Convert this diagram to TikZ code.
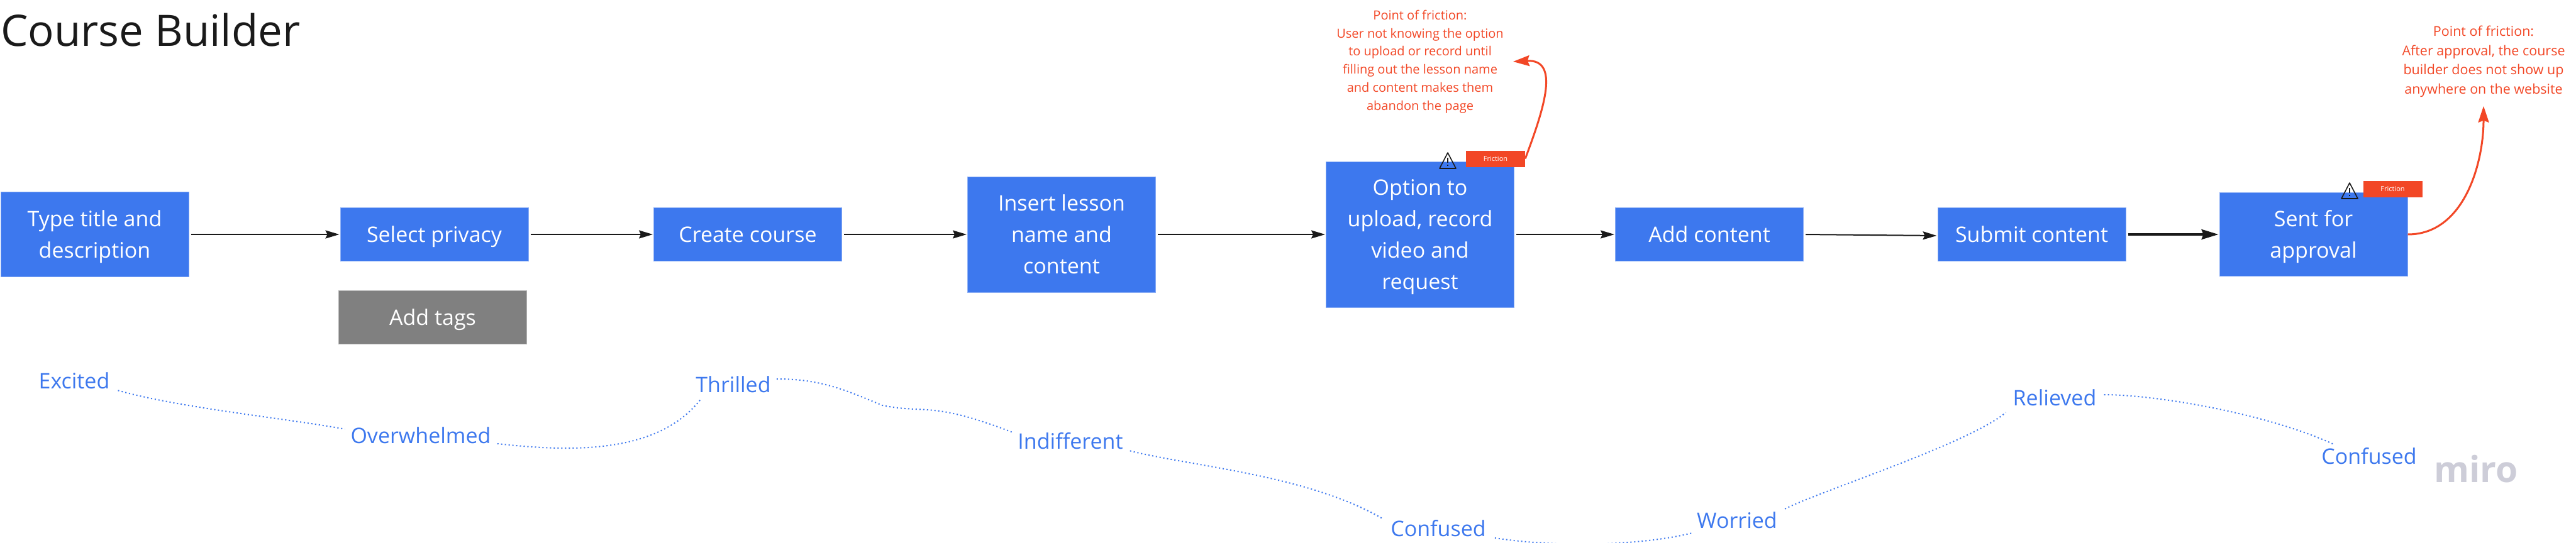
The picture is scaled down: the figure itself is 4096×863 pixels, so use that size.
\documentclass[tikz,border=0pt]{standalone}
\usepackage{fontspec}
\setmainfont{Open Sans}
\usepackage{xcolor}
\usetikzlibrary{arrows.meta, positioning}
\definecolor{flowblue}{HTML}{3D78EE}
\definecolor{flowgray}{HTML}{808080}
\definecolor{flowred}{HTML}{F24726}
\definecolor{flowink}{HTML}{1A1A1A}
\definecolor{miroink}{HTML}{CDCDD8}
\newcommand{\firstrow}{\rule{0pt}{40pt}}

\begin{document}
\begin{tikzpicture}[
    x=1pt, y=-1pt,
    flowbox/.style={rectangle, draw=#1!60!white, line width=1pt, fill=#1, text=white, minimum width=299pt, align=center, inner sep=0pt, font=\fontsize{34}{50}\selectfont, execute at end node=\rule[-15pt]{0pt}{15pt}},
    flowbox/.default=flowblue,
    tagbox/.style={rectangle, fill=flowred, text=white, minimum width=94pt, minimum height=26pt, inner sep=0pt, font=\fontsize{11}{13}\selectfont},
    note/.style={text=flowred, align=center, font=\fontsize{20}{28.7}\selectfont},
    mood/.style={text=flowblue, inner sep=0pt, font=\fontsize{34}{40}\selectfont},
    flowarrow/.style={-{Stealth[length=22pt,width=13pt,inset=3pt]}, draw=flowink, line width=2pt, shorten <=3pt, shorten >=1pt},
    redarrow/.style={-{Stealth[length=26pt,width=17pt,inset=3pt]}, draw=flowred, line width=3pt},
    moodline/.style={draw=flowblue, line width=2pt, dash pattern=on 2pt off 4pt},
    warnsign/.style={draw=flowink, line width=1.6pt, line join=round}
]
\useasboundingbox (0,0) rectangle (4096,863);

% Title
\node[anchor=base west, inner sep=0pt, text=flowink, font=\fontsize{69}{80}\selectfont] (title) at (1,73) {Course Builder};

% Steps
\node[flowbox, minimum height=135pt] (typetitle) at (150.5,373) {\firstrow Type title and\\description};
\node[flowbox, minimum height=85pt] (privacy) at (690.5,373) {\firstrow Select privacy};
\node[flowbox=flowgray, minimum height=85pt] (tags) at (688,504.5) {\firstrow Add tags};
\node[flowbox, minimum height=85pt] (create) at (1189,373) {\firstrow Create course};
\node[flowbox, minimum height=184pt] (lesson) at (1688,373) {\firstrow Insert lesson\\name and\\content};
\node[flowbox, minimum height=232pt] (option) at (2258,373) {\firstrow Option to\\upload, record\\video and\\request};
\node[flowbox, minimum height=85pt] (addcontent) at (2718,373) {\firstrow Add content};
\node[flowbox, minimum height=85pt] (submit) at (3230.5,373) {\firstrow Submit content};
\node[flowbox, minimum height=133pt] (sent) at (3678.5,373) {\firstrow Sent for\\approval};

\draw[flowarrow] (typetitle) -- (privacy);
\draw[flowarrow] (privacy) -- (create);
\draw[flowarrow] (create) -- (lesson);
\draw[flowarrow] (lesson) -- (option);
\draw[flowarrow] (option) -- (addcontent);
\draw[flowarrow] (addcontent.east) -- ([yshift=-2pt]submit.west);
\draw[flowarrow, line width=3.5pt, -{Stealth[length=27pt,width=16pt,inset=3pt]}] (submit) -- (sent);

% Friction tags and notes
\node[tagbox] (tagone) at (2378,252.5) {Friction};
\node[tagbox] (tagtwo) at (3804.5,301) {Friction};
\draw[warnsign] (2302,243) -- (2315,268) -- (2289,268) -- cycle;
\draw[flowink, line width=2pt] (2302,251) -- (2302,259) (2302,262) -- (2302,264);
\draw[warnsign] (3736,291) -- (3749,316) -- (3723,316) -- cycle;
\draw[flowink, line width=2pt] (3736,299) -- (3736,307) (3736,310) -- (3736,312);

\node[note, inner sep=15pt] (noteone) at (2258,98) {Point of friction:\\User not knowing the option\\to upload or record until\\filling out the lesson name\\and content makes them\\abandon the page};
\node[note, inner sep=14pt, font=\fontsize{21.5}{30.5}\selectfont] (notetwo) at (3949,98) {Point of friction:\\After approval, the course\\builder does not show up\\anywhere on the website};

\draw[redarrow] (tagone.east) .. controls +(30,-80) and +(75,-4) .. (noteone.east);
\draw[redarrow] (sent.east) .. controls +(90,0) and +(0,90) .. (notetwo.south);

% Mood line
\node[mood] (excited) at (118,606) {Excited};
\node[mood] (overwhelmed) at (669,693) {Overwhelmed};
\node[mood] (thrilled) at (1166,612) {Thrilled};
\node[mood] (indifferent) at (1702,702) {Indifferent};
\node[mood] (confusedone) at (2287,841) {Confused};
\node[mood] (worried) at (2762,828) {Worried};
\node[mood] (relieved) at (3267,633) {Relieved};
\node[mood] (confusedtwo) at (3767,726) {Confused};

\draw[moodline] ([shift={(13,2)}]excited.south east) .. controls +(100,28) and +(-100,-18) .. ([shift={(-9,3)}]overwhelmed.north west);
\draw[moodline] ([shift={(10,13)}]overwhelmed.east) .. controls +(110,12) and +(-70,90) .. ([shift={(8,10)}]thrilled.south west);
\draw[moodline] ([shift={(9,-9)}]thrilled.east) .. controls +(70,0) and +(-60,-25) .. (1403,645) .. controls +(70,14) and +(-130,-50) .. ([shift={(-9,-1)}]indifferent.north west);
\draw[moodline] ([shift={(11,2)}]indifferent.south east) .. controls +(100,25) and +(-120,-70) .. ([shift={(-12,-2)}]confusedone.north west);
\draw[moodline] ([shift={(14,15)}]confusedone.east) .. controls +(90,14) and +(-90,22) .. ([shift={(-7,20)}]worried.west);
\draw[moodline] ([shift={(12,-5)}]worried.north east) .. controls +(60,-30) and +(-60,50) .. ([shift={(-11,10)}]relieved.south west);
\draw[moodline] ([shift={(12,-5)}]relieved.east) .. controls +(80,0) and +(-110,-50) .. ([shift={(19,-6)}]confusedtwo.north west);

% Watermark
\node[anchor=base west, inner sep=0pt, text=miroink, font=\fontsize{57}{70}\selectfont\bfseries] (miro) at (3870,767) {miro};
\end{tikzpicture}
\end{document}
